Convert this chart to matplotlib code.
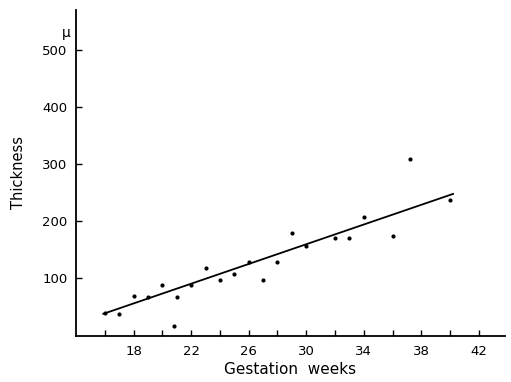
import matplotlib
matplotlib.use("Agg")
import matplotlib.pyplot as plt

# gestation (weeks) vs thickness (micron)
weeks = [16, 17, 18, 19, 20, 20.8, 21, 22, 23, 24, 25, 26, 27, 28, 29, 30,
         32, 33, 34, 36, 37.2, 40]
thickness = [40, 38, 70, 68, 88, 17, 68, 88, 118, 98, 107, 129, 98, 128, 180,
             157, 170, 170, 207, 174, 310, 238]

fit_weeks = [15.9, 40.2]
fit_thickness = [38, 248]

x_ticks = list(range(16, 43, 2))
x_labels = ["18", "22", "26", "30", "34", "38", "42"]
y_ticks = [100, 200, 300, 400, 500]
y_labels = ["100", "200", "300", "400", "500"]

plt.rcParams['font.family'] = ['DejaVu Sans']

fig = plt.figure(figsize=(5.11, 3.82), dpi=100)
ax = fig.add_axes([0.1487, 0.1217, 0.8393, 0.852])

ax.scatter(weeks, thickness, s=4, c="black", zorder=3)
ax.plot(fit_weeks, fit_thickness, color="black", lw=1.3)

ax.set_xlim(14, 43.8)
ax.set_ylim(0, 570)

ax.spines['top'].set_visible(False)
ax.spines['right'].set_visible(False)
ax.spines['left'].set_linewidth(1.3)
ax.spines['bottom'].set_linewidth(1.3)

ax.set_xticks(x_ticks)
ax.set_xticklabels(["" if str(t) not in x_labels else str(t) for t in x_ticks])
ax.set_yticks(y_ticks)
ax.set_yticklabels(y_labels)
ax.tick_params(axis='x', direction='in', length=4, width=1, labelsize=9.5, pad=7)
ax.tick_params(axis='y', direction='in', length=4, width=1, labelsize=9.5, pad=6)

ax.text(-0.012, 0.93, "\u03bc", transform=ax.transAxes, ha='right',
        va='center', fontsize=10)

ax.set_xlabel("Gestation  weeks", fontsize=11, labelpad=3)
ax.set_ylabel("Thickness", fontsize=10.5, labelpad=12)

fig.savefig("out.png", dpi=100)
